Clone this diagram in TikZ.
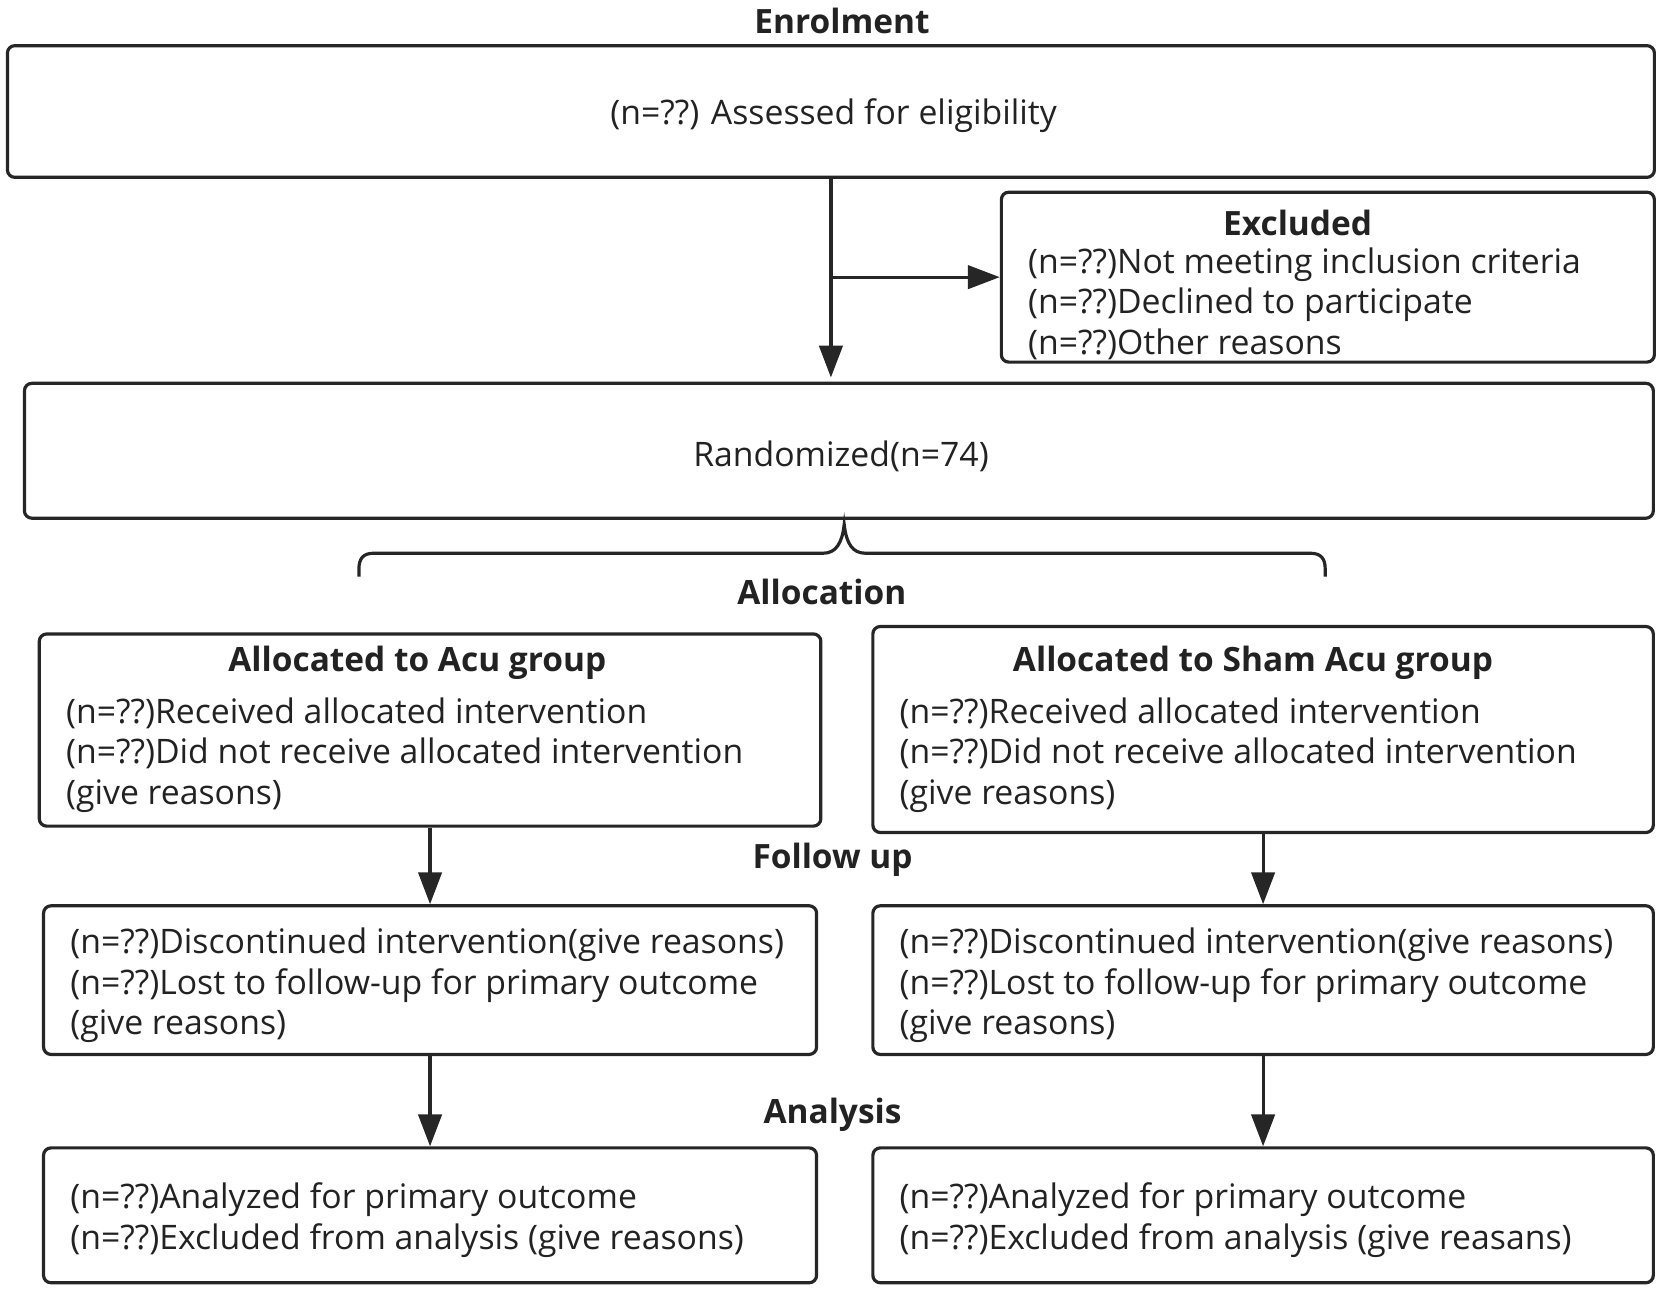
\documentclass[tikz,border=0pt]{standalone}
\usepackage{fontspec}
\setmainfont{Open Sans}
\usetikzlibrary{arrows.meta}
\definecolor{ln}{HTML}{262626}
\definecolor{tx}{HTML}{222222}
\begin{document}
\begin{tikzpicture}[x=1pt,y=-1pt,
  every node/.style={text=tx, font=\fontsize{31.8}{38}\selectfont},
  box/.style={draw=ln, line width=3pt, rounded corners=7pt, inner sep=0pt},
  ttl/.style={font=\fontsize{31.5}{38}\selectfont\bfseries, inner sep=0pt},
  body/.style={anchor=west, align=left, inner sep=0pt},
  arr/.style={draw=ln, line width=3pt, -{Triangle[length=30pt,width=22pt]}}]
\useasboundingbox (0,0) rectangle (1568,1216);
% section titles
\node[ttl] (tenrol) at (793,20) {Enrolment};
\node[ttl] (talloc) at (774,557) {Allocation};
\node[ttl] (tfollow) at (784,810) {Follow up};
\node[ttl] (tanal) at (784,1050) {Analysis};
% boxes
\node[box, minimum width=1551, minimum height=124] (top) at (782.5,105) {};
\node (toptxt) at (785,109) {(n=??) Assessed for eligibility};
\node[box, minimum width=615, minimum height=160] (ex) at (1250.5,261) {};
\node[ttl] (extitle) at (1222,210) {Excluded};
\node[body] (exbody) at (968,286) {(n=??)Not meeting inclusion criteria\\(n=??)Declined to participate\\(n=??)Other reasons};
\node[box, minimum width=1534, minimum height=127] (rand) at (790,424.5) {};
\node (randtxt) at (792,430) {Randomized(n=74)};
\node[box, minimum width=736, minimum height=181] (al) at (405,687.5) {};
\node[ttl] (altitle) at (393,624) {Allocated to Acu group};
\node[body] (albody) at (62,711) {(n=??)Received allocated intervention\\(n=??)Did not receive allocated intervention\\(give reasons)};
\node[box, minimum width=735, minimum height=194] (ar) at (1189.5,687) {};
\node[ttl] (artitle) at (1180,624) {Allocated to Sham Acu group};
\node[body] (arbody) at (847,711) {(n=??)Received allocated intervention\\(n=??)Did not receive allocated intervention\\(give reasons)};
\node[box, minimum width=728, minimum height=140] (fl) at (405,923) {};
\node[body] (flbody) at (66,928) {(n=??)Discontinued intervention(give reasons)\\(n=??)Lost to follow-up for primary outcome\\(give reasons)};
\node[box, minimum width=735, minimum height=140] (fr) at (1189.5,923) {};
\node[body] (frbody) at (847,928) {(n=??)Discontinued intervention(give reasons)\\(n=??)Lost to follow-up for primary outcome\\(give reasons)};
\node[box, minimum width=728, minimum height=127] (nl) at (405,1144.5) {};
\node[body] (nlbody) at (66,1149) {(n=??)Analyzed for primary outcome\\(n=??)Excluded from analysis (give reasons)};
\node[box, minimum width=735, minimum height=127] (nr) at (1189.5,1144.5) {};
\node[body] (nrbody) at (847,1149) {(n=??)Analyzed for primary outcome\\(n=??)Excluded from analysis (give reasans)};
% connectors
\draw[arr, shorten >=4pt] (top.south) -- (top.south |- rand.north);
\draw[arr] (top.south |- ex.west) -- (ex.west);
\draw[arr] (al.south) -- (fl.north);
\draw[arr] (ar.south) -- (fr.north);
\draw[arr] (fl.south) -- (nl.north);
\draw[arr] (fr.south) -- (nr.north);
% brace
\draw[ln, line width=3pt] (338,543) -- (338,536) .. controls (338,526) and (342,521) .. (352,521) -- (775,521) .. controls (787,521) and (793,512) .. (795,494) .. controls (797,512) and (803,521) .. (815,521) -- (1234,521) .. controls (1244,521) and (1248,526) .. (1248,536) -- (1248,543);
\end{tikzpicture}
\end{document}
